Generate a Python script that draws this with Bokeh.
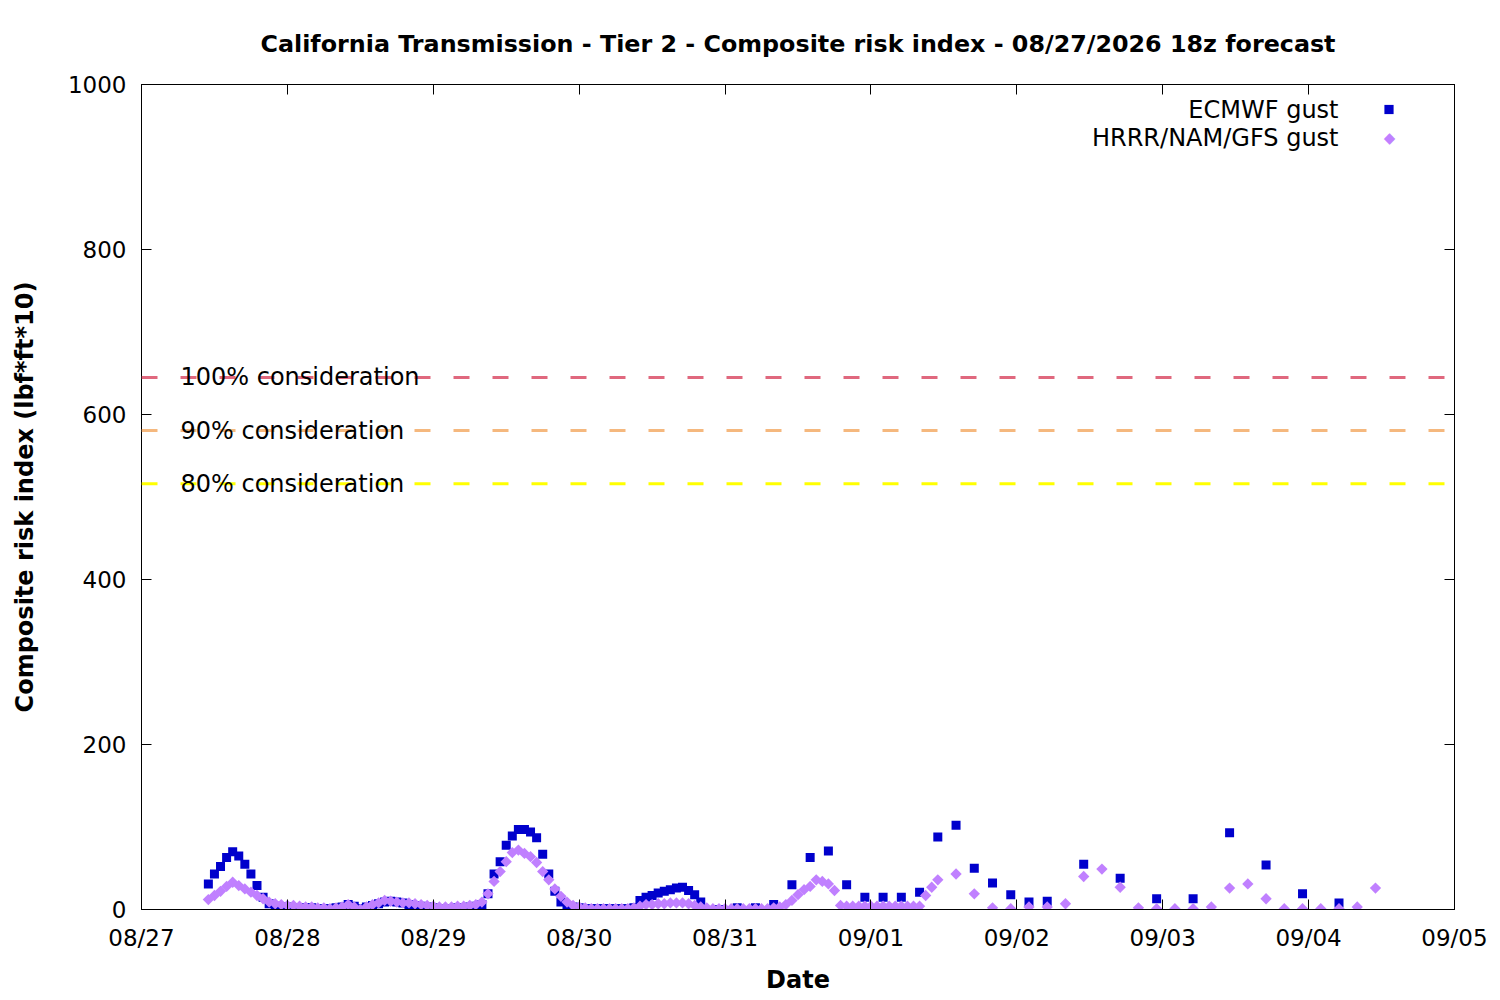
import numpy as np
from bokeh.plotting import figure
from bokeh.models import (Range1d, FixedTicker, LinearAxis, Span, Label,
                          Legend, LegendItem, ColumnDataSource)
from bokeh.embed import file_html
from bokeh.resources import INLINE

FONT = "DejaVu Sans"

# ---------------- data ----------------
title_text = "California Transmission - Tier 2 - Composite risk index - 08/27/2026 18z forecast"
tick_hours = [0, 24, 48, 72, 96, 120, 144, 168, 192, 216]
tick_labels = ["08/27", "08/28", "08/29", "08/30", "08/31",
               "09/01", "09/02", "09/03", "09/04", "09/05"]
y_ticks = [0, 200, 400, 600, 800, 1000]

# hours since 08/27 00:00
ecmwf_hours = list(range(11, 93)) + list(range(95, 150, 3)) + list(range(155, 198, 6))
ecmwf_values = [
    31, 43, 52, 63, 70, 65, 55, 43, 29, 15, 7, 4, 3,
    3, 2, 2, 2, 2, 1, 1, 1, 2, 3, 6, 4, 1, 3, 5, 7, 9, 10, 9, 8, 6, 5, 4, 3,
    2, 1, 1, 1, 2, 2, 3, 4, 6, 19, 43, 58, 78, 89, 97, 97, 94, 87, 67, 43, 22, 9, 5, 3,
    2, 1, 1, 1, 1, 1, 1, 1, 1, 2, 11, 15, 17, 20, 22, 24, 26, 27, 23, 18, 9,
    0, 2, 2, 6, 30, 63, 71, 30, 15, 15, 15, 21, 88, 102, 50, 32, 18, 9, 10,
    55, 38, 13, 13, 93, 54, 19, 8,
]

hrrr_hours = list(range(11, 132)) + list(range(134, 204, 3))
hrrr_values = [
    12, 17, 22, 28, 33, 29, 25, 21, 17, 13, 9, 7, 6,
    5, 5, 4, 3, 3, 2, 2, 1, 2, 3, 6, 3, 0, 3, 6, 8, 11, 10, 9, 8, 8, 7, 6, 5,
    4, 3, 3, 3, 4, 4, 5, 6, 9, 19, 34, 46, 58, 69, 72, 68, 64, 57, 46, 36, 25, 16, 9, 5,
    3, 2, 1, 1, 1, 1, 1, 1, 1, 2, 4, 6, 6, 7, 7, 8, 8, 8, 7, 5, 3, 2, 1, 1,
    1, 1, 1, 1, 1, 1, 1, 1, 2, 3, 6, 11, 18, 24, 28, 36, 34, 31, 23, 5, 4, 4, 4, 4,
    4, 4, 4, 4, 4, 4, 4, 4, 4, 17, 27, 36,
    43, 19, 2, 1, 3, 3, 7, 40, 49, 27, 2, 1, 1, 1, 3, 26, 31, 13, 1, 1, 1, 1, 3, 26,
]

threshold_values = [645, 580.5, 516]
threshold_names = ["100% consideration", "90% consideration", "80% consideration"]
threshold_colors = ["#e0687e", "#f5b87e", "#ffff00"]

series_names = ["ECMWF gust", "HRRR/NAM/GFS gust"]
series_colors = ["#0000cc", "#c080ff"]

# ---------------- figure ----------------
p = figure(width=1496, height=996,
           x_range=Range1d(tick_hours[0], tick_hours[-1]),
           y_range=Range1d(0, 1000),
           output_backend="svg", toolbar_location=None,
           min_border_left=141, min_border_right=42,
           min_border_top=84, min_border_bottom=86)
p.background_fill_color = "white"
p.border_fill_color = "white"
p.outline_line_color = "black"
p.outline_line_width = 1
p.xgrid.visible = False
p.ygrid.visible = False

p.title.text = title_text
p.title.align = "center"
p.title.text_font = FONT
p.title.text_font_size = "23.8px"
p.title.text_font_style = "bold"
p.title.text_color = "black"
p.title.standoff = 54

xt = FixedTicker(ticks=tick_hours)
yt = FixedTicker(ticks=y_ticks)


def style_axis(ax):
    ax.axis_line_color = "black"
    ax.axis_line_width = 1
    ax.major_tick_line_color = "black"
    ax.major_tick_in = 10
    ax.major_tick_out = 0
    ax.minor_tick_line_color = None
    ax.major_label_text_font = FONT
    ax.major_label_text_font_size = "23px"
    ax.major_label_text_color = "black"
    ax.axis_label_text_font = FONT
    ax.axis_label_text_font_size = "24px"
    ax.axis_label_text_font_style = "bold"
    ax.axis_label_text_color = "black"


xa = p.xaxis[0]
xa.ticker = xt
xa.major_label_overrides = {h: lab for h, lab in zip(tick_hours, tick_labels)}
xa.axis_label = "Date"
style_axis(xa)
xa.major_label_standoff = 15
xa.axis_label_standoff = 12

ya = p.yaxis[0]
ya.ticker = yt
ya.axis_label = "Composite risk index (lbf*ft*10)"
style_axis(ya)
ya.major_label_standoff = 15
ya.axis_label_standoff = 26

top_ax = LinearAxis(ticker=xt, major_label_overrides={h: "" for h in tick_hours})
style_axis(top_ax)
top_ax.major_label_text_font_size = "0px"
top_ax.major_label_standoff = 0
p.add_layout(top_ax, "above")

right_ax = LinearAxis(ticker=yt, major_label_overrides={v: "" for v in y_ticks})
style_axis(right_ax)
right_ax.major_label_text_font_size = "0px"
right_ax.major_label_standoff = 0
p.add_layout(right_ax, "right")

# threshold lines
for val, name, col in zip(threshold_values, threshold_names, threshold_colors):
    p.add_layout(Span(location=val, dimension="width", line_color=col,
                      line_width=3, line_dash="16 23"))
    p.add_layout(Label(x=39, y=val, x_units="screen", y_units="data",
                       text=name, text_font=FONT, text_font_size="24px",
                       text_color="black", text_baseline="middle", text_align="left"))

# data points
src_e = ColumnDataSource(dict(x=ecmwf_hours, y=ecmwf_values))
src_h = ColumnDataSource(dict(x=hrrr_hours, y=hrrr_values))
r_e = p.scatter("x", "y", source=src_e, marker="square", size=9,
                fill_color=series_colors[0], line_color=None)
r_h = p.scatter("x", "y", source=src_h, marker="square", size=8, angle=np.pi / 4,
                fill_color=series_colors[1], line_color=None)

# legend: ECMWF marker via Legend, HRRR diamond as a glyph character; texts right aligned
leg = Legend(items=[LegendItem(label=" ", renderers=[r_e])],
             location=(1236, 786), orientation="vertical",
             glyph_width=23, glyph_height=28, label_width=0, label_height=28,
             label_standoff=0, spacing=0, padding=0, margin=0,
             label_text_font_size="1px",
             border_line_color=None, background_fill_alpha=0)
p.add_layout(leg, "center")
p.add_layout(Label(x=1248, y=772, x_units="screen", y_units="screen",
                   text="\u25c6", text_font=FONT, text_font_size="15px",
                   text_color=series_colors[1], text_baseline="middle", text_align="center"))

for name, yy in zip(series_names, [800, 772]):
    p.add_layout(Label(x=1197, y=yy, x_units="screen", y_units="screen",
                       text=name, text_font=FONT, text_font_size="24px",
                       text_color="black", text_baseline="middle", text_align="right"))

open("out.html", "w").write(file_html(p, INLINE))
